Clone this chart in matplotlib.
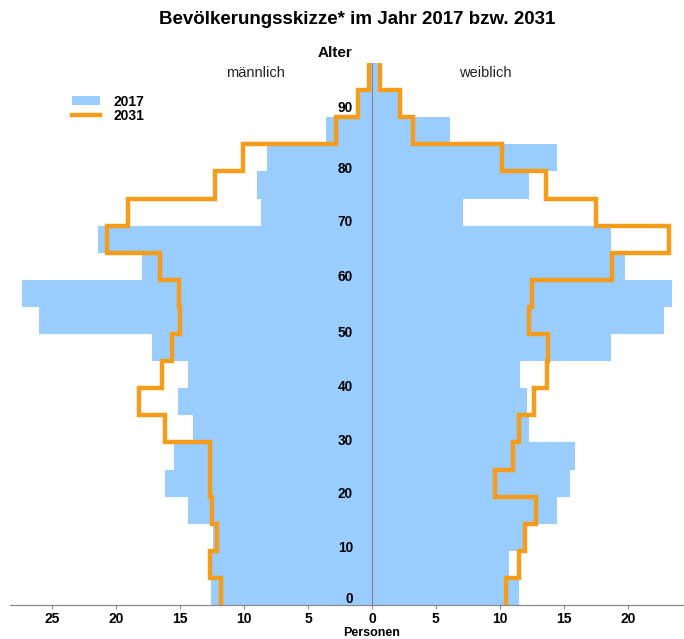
import numpy as np
import matplotlib
matplotlib.use("Agg")
import matplotlib.pyplot as plt
from matplotlib.patches import Patch
from matplotlib.lines import Line2D

plt.rcParams['font.family'] = ['Liberation Sans', 'DejaVu Sans']

# 5-year age groups, 0-4 ... 95+
age_start = np.arange(0, 100, 5)

# 2017 (bars)
male_2017 = [12.6, 12.5, 12.4, 14.4, 16.2, 15.5, 14.0, 15.2, 14.4, 17.2,
             26.0, 27.4, 18.0, 21.4, 8.7, 9.0, 8.2, 3.6, 1.0, 0.2]
female_2017 = [11.5, 10.7, 11.8, 14.5, 15.5, 15.9, 12.3, 12.1, 11.6, 18.7,
               22.8, 23.5, 19.8, 18.7, 7.1, 12.3, 14.5, 6.1, 2.1, 0.5]

# 2031 (line)
male_2031 = [11.8, 12.7, 12.1, 12.5, 12.7, 12.7, 16.2, 18.2, 16.4, 15.6,
             15.0, 15.1, 16.6, 20.7, 19.1, 12.3, 10.1, 2.8, 1.1, 0.2]
female_2031 = [10.5, 11.5, 12.0, 12.8, 9.6, 11.0, 11.5, 12.7, 13.7, 13.8,
               12.3, 12.5, 18.8, 23.2, 17.5, 13.6, 10.2, 3.2, 2.2, 0.6]

age_ticks = [0, 10, 20, 30, 40, 50, 60, 70, 80, 90]
x_ticks = [-25, -20, -15, -10, -5, 0, 5, 10, 15, 20]

blue = '#99CCFF'
orange = '#F59C1A'
grey = '#8A8A8A'

fig = plt.figure(figsize=(6.84, 6.39), dpi=100)
ax = fig.add_axes([10 / 684, 1 - 605 / 639, 674 / 684, 542 / 639])

ax.barh(age_start, -np.array(male_2017), height=5, align='edge', color=blue, linewidth=0)
ax.barh(age_start, female_2017, height=5, align='edge', color=blue, linewidth=0)


def step_xy(vals):
    ys = np.repeat(np.append(age_start, 100), 2)[1:-1]
    xs = np.repeat(vals, 2)
    return xs, ys


mx, my = step_xy(male_2031)
fx, fy = step_xy(female_2031)
ax.plot(-mx, my, color=orange, lw=3.2, solid_joinstyle='miter')
ax.plot(fx, fy, color=orange, lw=3.2, solid_joinstyle='miter')

ax.axvline(0, color=grey, lw=0.9, zorder=3)
ax.set_xlim(-28.3, 24.4)
ax.set_ylim(0, 100)

for s in ['top', 'right', 'left']:
    ax.spines[s].set_visible(False)
ax.spines['bottom'].set_color(grey)
ax.spines['bottom'].set_linewidth(0.9)
ax.set_yticks([])
ax.set_xticks(x_ticks)
ax.set_xticklabels([str(abs(t)) for t in x_ticks], fontsize=10, fontweight='bold')
ax.tick_params(axis='x', length=3, color=grey, pad=2)

# age labels next to the centre line
label_y = [1.1, 10.5, 20.5, 30.3, 40.2, 50.2, 60.5, 70.7, 80.4, 91.7]
for a, yy in zip(age_ticks, label_y):
    ax.text(-1.5, yy, str(a), ha='right', va='center', fontsize=9.8, fontweight='bold')

fig.text(357 / 684, 1 - 20 / 639, 'Bevölkerungsskizze* im Jahr 2017 bzw. 2031',
         ha='center', va='center', fontsize=13.5, fontweight='bold')
fig.text(335 / 684, 1 - 53 / 639, 'Alter', ha='center', va='center', fontsize=11, fontweight='bold')
fig.text(255 / 684, 1 - 73 / 639, 'männlich', ha='center', va='center', fontsize=10.5, color='#222222')
fig.text(485 / 684, 1 - 73 / 639, 'weiblich', ha='center', va='center', fontsize=10.5, color='#222222')
fig.text(372 / 684, 0.0, 'Personen', ha='center', va='bottom', fontsize=9, fontweight='bold')

handles = [Patch(facecolor=blue, edgecolor='none'), Line2D([0], [0], color=orange, lw=3.2)]
fig.legend(handles, ['2017', '2031'], loc='upper left', bbox_to_anchor=(62 / 684, 1 - 85 / 639),
           frameon=False, prop={'weight': 'bold', 'size': 10}, handlelength=2.0,
           handleheight=0.6, labelspacing=0.0, borderpad=0.2, handletextpad=1.0)

fig.savefig('out.png', dpi=100)
